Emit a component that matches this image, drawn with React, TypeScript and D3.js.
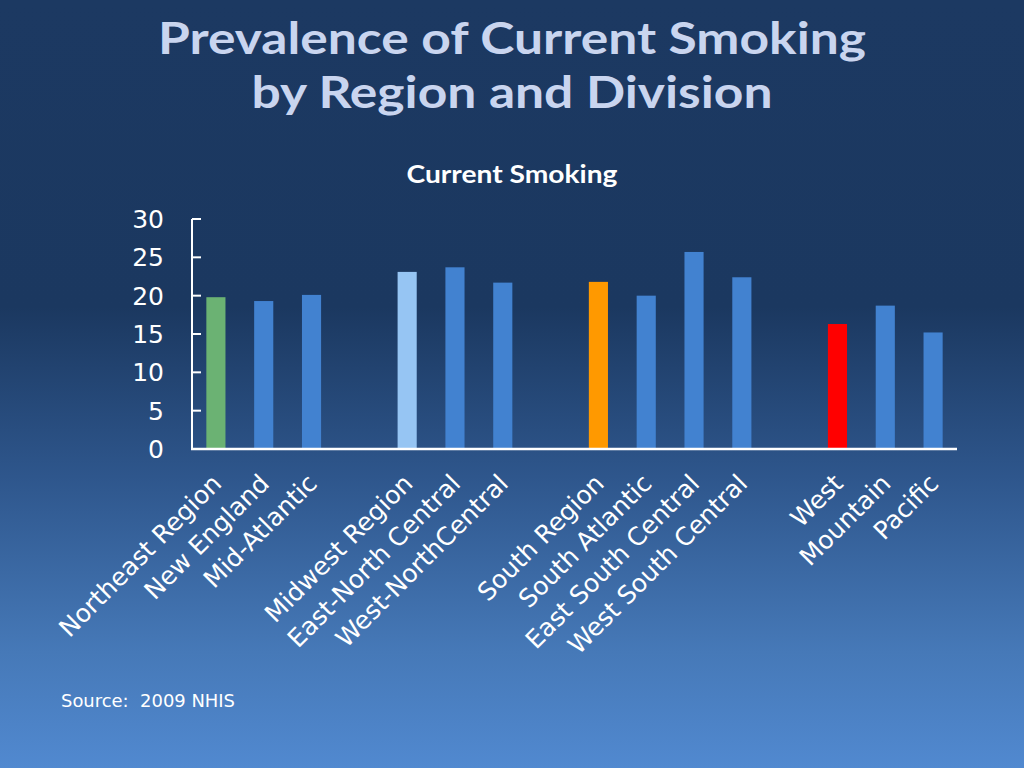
import React from "react";
import * as d3 from "d3";

const categories = [
  "Northeast Region", "New England", "Mid-Atlantic",
  "Midwest Region", "East-North Central", "West-NorthCentral",
  "South Region", "South Atlantic", "East South Central", "West South Central",
  "West", "Mountain", "Pacific",
];
const values = [19.8, 19.3, 20.1, 23.1, 23.7, 21.7, 21.8, 20.0, 25.7, 22.4, 16.3, 18.7, 15.2];
const groups = [0, 0, 0, 1, 1, 1, 2, 2, 2, 2, 3, 3, 3];
const barColors = [
  "#6bb273", "#4282d0", "#4282d0",
  "#96c5f3", "#4282d0", "#4282d0",
  "#ff9900", "#4282d0", "#4282d0", "#4282d0",
  "#ff0000", "#4282d0", "#4282d0",
];
const yTicks = [0, 5, 10, 15, 20, 25, 30];

const W = 1024, H = 768;
const LABEL_FONT = "'DejaVu Sans', Verdana, sans-serif";
const TITLE_FONT = "Lato, 'Open Sans', sans-serif";

export default function App() {
  const slots = d3.range(categories.length + 3);
  const x = d3.scaleBand<number>().domain(slots).range([192, 957]).paddingInner(0.6).paddingOuter(0.3);
  const y = d3.scaleLinear().domain([0, 30]).range([449, 219]);
  const slotOf = (i: number) => i + groups[i];

  return (
    <svg width={W} height={H} style={{ position: "absolute", left: 0, top: 0, display: "block" }}>
      <defs>
        <linearGradient id="bg" x1="0" y1="0" x2="0" y2="1">
          <stop offset="0" stopColor="#1c3962" />
          <stop offset="0.4" stopColor="#1b3860" />
          <stop offset="0.62" stopColor="#2e568c" />
          <stop offset="0.85" stopColor="#4679b8" />
          <stop offset="1" stopColor="#5189d0" />
        </linearGradient>
      </defs>
      <rect x={0} y={0} width={W} height={H} fill="url(#bg)" />

      <text x={512} y={54} textAnchor="middle" fill="#c9d5ef" fontFamily={TITLE_FONT} fontWeight="bold" fontSize={44}
        textLength={708} lengthAdjust="spacingAndGlyphs">Prevalence of Current Smoking</text>
      <text x={512} y={108} textAnchor="middle" fill="#c9d5ef" fontFamily={TITLE_FONT} fontWeight="bold" fontSize={44}
        textLength={521} lengthAdjust="spacingAndGlyphs">by Region and Division</text>

      <text x={512} y={183} textAnchor="middle" fill="#ffffff" fontFamily={TITLE_FONT} fontWeight="bold" fontSize={24}
        textLength={211} lengthAdjust="spacingAndGlyphs">Current Smoking</text>

      {values.map((v, i) => (
        <rect key={i} x={x(slotOf(i))} y={y(v)} width={x.bandwidth()} height={y(0) - y(v)} fill={barColors[i]} />
      ))}

      <line x1={192} x2={192} y1={y(30)} y2={y(0)} stroke="#ffffff" strokeWidth={2} />
      <line x1={191} x2={957} y1={y(0)} y2={y(0)} stroke="#ffffff" strokeWidth={2.5} />
      {yTicks.map((t) => (
        <g key={t}>
          <line x1={192} x2={201} y1={y(t)} y2={y(t)} stroke="#ffffff" strokeWidth={2} />
          <text x={164} y={y(t)} dy="0.36em" textAnchor="end" fill="#ffffff" fontFamily={LABEL_FONT} fontSize={25}>{t}</text>
        </g>
      ))}

      {categories.map((c, i) => {
        const cx = (x(slotOf(i)) as number) + x.bandwidth() / 2;
        return (
          <text key={c} transform={`translate(${cx + 7},${485}) rotate(-45)`} textAnchor="end" fill="#ffffff"
            fontFamily={LABEL_FONT} fontSize={25}>{c}</text>
        );
      })}

      <text x={61} y={707} fill="#ffffff" fontFamily={LABEL_FONT} fontSize={17} textLength={174} lengthAdjust="spacingAndGlyphs"
        style={{ whiteSpace: "pre" }}>{"Source:  2009 NHIS"}</text>
    </svg>
  );
}
